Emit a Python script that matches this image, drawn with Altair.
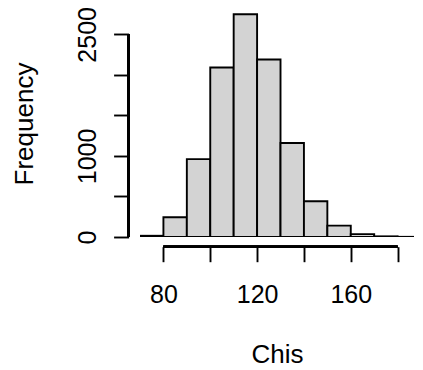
import altair as alt
import pandas as pd

# histogram data (bins of width 10)
bin_start = [70, 80, 90, 100, 110, 120, 130, 140, 150, 160, 170, 180]
bin_end = [80, 90, 100, 110, 120, 130, 140, 150, 160, 170, 180, 190]
counts = [15, 244, 961, 2091, 2747, 2190, 1159, 441, 140, 35, 8, 2]

x_ticks = [80, 100, 120, 140, 160, 180]
x_labels_shown = [80, 120, 160]
y_ticks = [0, 500, 1000, 1500, 2000, 2500]
y_labels_shown = [0, 1000, 2500]

df = pd.DataFrame({"start": bin_start, "end": bin_end, "count": counts})

W, H = 274, 227
FONT = "Liberation Sans"
LW = 1.9

xs = alt.Scale(domain=[70, 187], nice=False, zero=False)
ys = alt.Scale(domain=[0, 2800], nice=False)

def show_expr(vals):
    return "indexof([" + ",".join(str(v) for v in vals) + "], datum.value) >= 0 ? datum.label : ''"

bars = alt.Chart(df).mark_rect(
    fill="#D3D3D3", stroke="black", strokeWidth=LW, clip=True
).encode(
    x=alt.X("start:Q", scale=xs, title="Chis",
            axis=alt.Axis(values=x_ticks, domain=False, grid=False, tickSize=15,
                          tickWidth=LW, tickColor="black", offset=9.7, format="d",
                          labelExpr=show_expr(x_labels_shown), labelFontSize=25,
                          labelFont=FONT, labelColor="black", labelPadding=21,
                          labelFlush=False, labelOverlap=False,
                          titleFont=FONT, titleFontSize=26, titleFontWeight="normal",
                          titleColor="black", titlePadding=34)),
    x2="end:Q",
    y=alt.Y("count:Q", scale=ys, title="Frequency",
            axis=alt.Axis(values=y_ticks, domain=False, grid=False, tickSize=15,
                          tickWidth=LW, tickColor="black", offset=11.4, format="d",
                          labelExpr=show_expr(y_labels_shown), labelFontSize=25,
                          labelFont=FONT, labelColor="black", labelAngle=270,
                          labelAlign="center", labelBaseline="alphabetic",
                          labelPadding=18, labelOverlap=False, labelFlush=False,
                          titleFont=FONT, titleFontSize=26, titleFontWeight="normal",
                          titleColor="black", titlePadding=38)),
    y2=alt.datum(0),
)

yline = alt.Chart(df).mark_rule(color="black", strokeWidth=LW).encode(
    x=alt.value(-11.4),
    y=alt.datum(y_ticks[0]),
    y2=alt.datum(y_ticks[-1]),
)

xline = alt.Chart(df).mark_rule(color="black", strokeWidth=LW).encode(
    x=alt.datum(x_ticks[0]),
    x2=alt.datum(x_ticks[-1]),
    y=alt.value(H + 9.7),
)

chart = alt.layer(bars, yline, xline).properties(
    width=W, height=H,
    autosize=alt.AutoSizeParams(type="none"),
    padding={"left": 132, "top": 2, "right": 0, "bottom": 133},
    background="white",
).configure_view(stroke=None)

chart.save("out.html", embed_options={"renderer": "svg", "actions": False})
